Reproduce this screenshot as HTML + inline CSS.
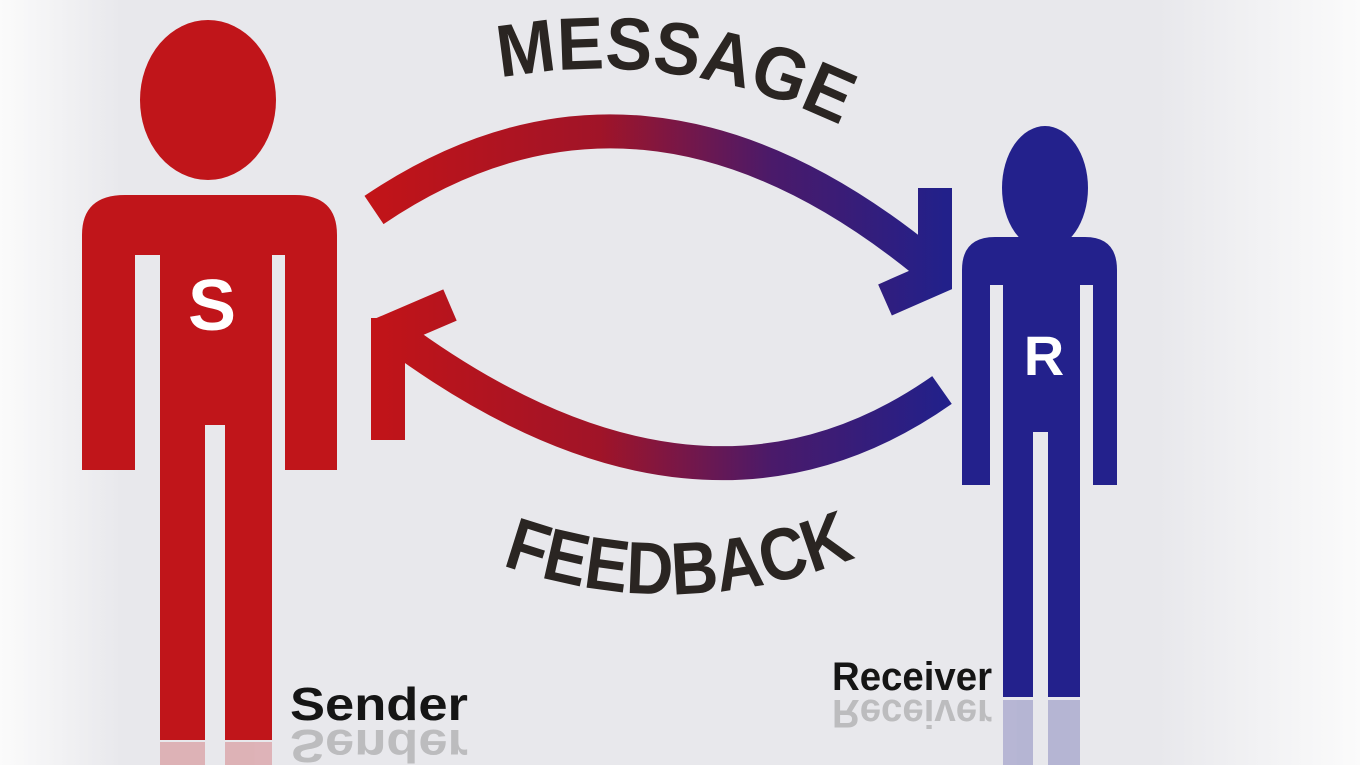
<!DOCTYPE html>
<html><head><meta charset="utf-8"><style>
html,body{margin:0;padding:0;width:1360px;height:765px;overflow:hidden;background:#e9e9ed}
svg{display:block}
</style></head><body>
<svg width="1360" height="765" viewBox="0 0 1360 765" xmlns="http://www.w3.org/2000/svg">
<defs>
<linearGradient id="bg" x1="0" x2="1" y1="0" y2="0">
<stop offset="0" stop-color="#fbfbfb"/><stop offset="0.09" stop-color="#e8e8ec"/>
<stop offset="0.85" stop-color="#e8e8ec"/><stop offset="1" stop-color="#fbfbfb"/>
</linearGradient>
<linearGradient id="ar" x1="370" x2="945" y1="0" y2="0" gradientUnits="userSpaceOnUse">
<stop offset="0" stop-color="#c21418"/><stop offset="0.4" stop-color="#a01428"/>
<stop offset="0.7" stop-color="#4a1a6a"/><stop offset="1" stop-color="#22208a"/>
</linearGradient>
<path id="tp1" d="M500,78 Q680,45 850,130"/>
<path id="tp2" d="M502,565 Q680,628 862,555"/>
</defs>
<rect width="1360" height="765" fill="url(#bg)"/>
<g fill="none" stroke="url(#ar)" stroke-width="34" stroke-linejoin="miter">
<path d="M374,210 Q640,30 925,262"/>
<path d="M935,188 L935,278 L885,300"/>
<path d="M942,390 Q700,560 395,335"/>
<path d="M388,318 L388,440"/>
<path d="M380,335 L450,305"/>
</g>
<g fill="#c0151a">
<ellipse cx="208" cy="100" rx="68" ry="80"/>
<path d="M82,235 Q82,195 125,195 L295,195 Q337,195 337,235 L337,470 L285,470 L285,255 L272,255 L272,740 L225,740 L225,425 L205,425 L205,740 L160,740 L160,255 L135,255 L135,470 L82,470 Z"/>
</g>
<text x="212" y="330" font-family="Liberation Sans,sans-serif" font-weight="bold" font-size="72" fill="#fff" text-anchor="middle">S</text>
<g fill="#23218c">
<ellipse cx="1045" cy="188" rx="43" ry="62"/>
<path d="M962,270 Q962,237 995,237 L1085,237 Q1117,237 1117,270 L1117,485 L1093,485 L1093,285 L1080,285 L1080,697 L1048,697 L1048,432 L1033,432 L1033,697 L1003,697 L1003,285 L990,285 L990,485 L962,485 Z"/>
</g>
<g fill="#23218c" opacity="0.25">
<rect x="1003" y="700" width="30" height="65"/><rect x="1048" y="700" width="32" height="65"/>
</g>
<g fill="#c0151a" opacity="0.25">
<rect x="160" y="742" width="45" height="23"/><rect x="225" y="742" width="47" height="23"/>
</g>
<text x="1044" y="375" font-family="Liberation Sans,sans-serif" font-weight="bold" font-size="56" fill="#fff" text-anchor="middle">R</text>
<g font-family="Liberation Sans,sans-serif" font-weight="bold" fill="#2a2522" font-size="74">
<text><textPath href="#tp1" textLength="350" lengthAdjust="spacingAndGlyphs">MESSAGE</textPath></text>
<text><textPath href="#tp2" textLength="362" lengthAdjust="spacingAndGlyphs">FEEDBACK</textPath></text>
</g>
<g font-family="Liberation Sans,sans-serif" font-weight="bold" fill="#151515">
<text x="290" y="720" font-size="46" textLength="178" lengthAdjust="spacingAndGlyphs">Sender</text>
<text x="832" y="690" font-size="40" textLength="160" lengthAdjust="spacingAndGlyphs">Receiver</text>
</g>
<g font-family="Liberation Sans,sans-serif" font-weight="bold" fill="#999" opacity="0.55">
<text x="290" y="-730" transform="scale(1,-1)" font-size="46" textLength="178" lengthAdjust="spacingAndGlyphs">Sender</text>
<text x="832" y="-700" transform="scale(1,-1)" font-size="40" textLength="160" lengthAdjust="spacingAndGlyphs">Receiver</text>
</g>
</svg>
</body></html>
